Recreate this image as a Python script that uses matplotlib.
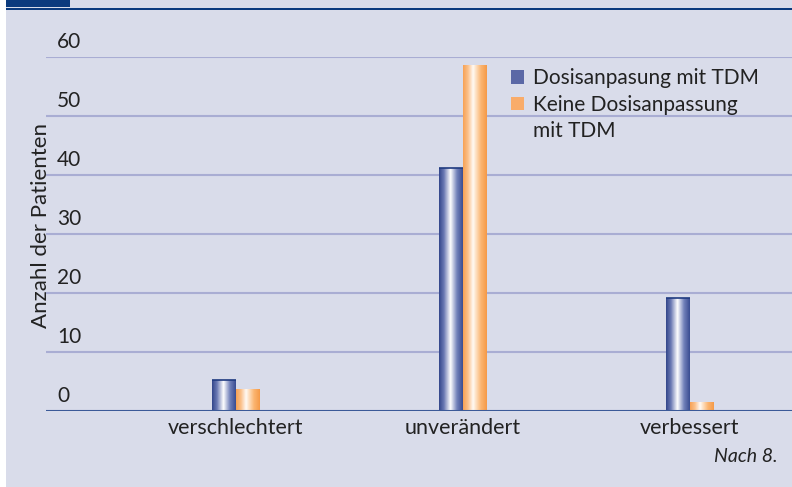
import matplotlib
matplotlib.use("Agg")
import matplotlib.pyplot as plt
import numpy as np
from matplotlib.colors import LinearSegmentedColormap
from matplotlib.patches import Rectangle

# Anzahl der Patienten je Ergebnis
kategorien = ["verschlechtert", "unverändert", "verbessert"]
mit_tdm = [5.2, 41.2, 19.1]
ohne_tdm = [3.7, 58.6, 1.5]
serien = ["Dosisanpasung mit TDM", "Keine Dosisanpassung\nmit TDM"]
yticks = [0, 10, 20, 30, 40, 50, 60]

bg = "#d9dcea"
txt = "#222222"
plt.rcParams["font.family"] = ["Lato", "DejaVu Sans"]

fig = plt.figure(figsize=(7.92, 4.87), dpi=100, facecolor=bg)
# white strip on the left, header bar on top
fig.patches.append(Rectangle((0, 0), 6 / 792, 1, transform=fig.transFigure,
                             facecolor="white", edgecolor="none"))
fig.patches.append(Rectangle((6 / 792, 1 - 7 / 487), 64 / 792, 7 / 487,
                             transform=fig.transFigure, facecolor="#0b3a7e",
                             edgecolor="none"))
fig.patches.append(Rectangle((6 / 792, 1 - 10 / 487), 1, 2.2 / 487,
                             transform=fig.transFigure, facecolor="#0b3a7e",
                             edgecolor="none"))

ax = fig.add_axes([46 / 792, 76 / 487, 746 / 792, 354 / 487])
ax.set_facecolor(bg)
for s in ax.spines.values():
    s.set_visible(False)

blau = LinearSegmentedColormap.from_list(
    "blau", [(0, "#34478c"), (0.2, "#6a79b3"), (0.48, "#ffffff"),
             (0.75, "#7483bb"), (1, "#3a4d92")])
orange = LinearSegmentedColormap.from_list(
    "orange", [(0, "#f7a255"), (0.2, "#fbc08a"), (0.42, "#fffaf4"),
               (0.75, "#fbb672"), (1, "#f59a48")])

x = np.arange(len(kategorien))
w = 0.104
grad = np.linspace(0, 1, 64).reshape(1, -1)

for i in range(len(kategorien)):
    for val, off, cmap, edge in [(mit_tdm[i], -w / 2, blau, "#1f3a80"),
                                 (ohne_tdm[i], w / 2, orange, None)]:
        bar = ax.bar(x[i] + off, val, w, color="none", edgecolor="none", zorder=3)[0]
        im = ax.imshow(grad, cmap=cmap, aspect="auto", zorder=3,
                       extent=[x[i] + off - w / 2, x[i] + off + w / 2, 0, val])
        im.set_clip_path(bar)
        if edge:
            ax.plot([x[i] + off - w / 2, x[i] + off + w / 2], [val, val],
                    color=edge, lw=1.2, zorder=4, solid_capstyle="butt")

# legend proxies; wrapped label continues on its own row without a marker
h1 = Rectangle((0, 0), 1, 1, facecolor="#5b68a6")
h2 = Rectangle((0, 0), 1, 1, facecolor="#f9ac6a")
h3 = Rectangle((0, 0), 1, 1, facecolor="none", edgecolor="none")
zeilen = [serien[0]] + serien[1].split("\n")
leg = ax.legend([h1, h2, h3], zeilen, loc="upper left",
                bbox_to_anchor=(503 / 792, 1 - 60 / 487), bbox_transform=fig.transFigure,
                frameon=False, fontsize=15, handlelength=0.6, handleheight=0.6,
                handletextpad=0.45, labelspacing=0.3, borderaxespad=0)
for t in leg.get_texts():
    t.set_color(txt)

ax.set_xlim(-0.837, 2.45)
ax.set_ylim(0, 60)
ax.set_yticks(yticks)
ax.yaxis.grid(True, color="#a9add3", lw=1.5, zorder=1)
ax.tick_params(axis="y", length=0, labelleft=False)
ax.tick_params(axis="x", length=0, labelsize=15.5, labelcolor=txt, pad=5)
ax.set_xticks(x)
ax.set_xticklabels(kategorien)
ax.axhline(0, color="#3b5a98", lw=2.2, zorder=5)

for t in yticks:
    ax.text(11 / 746, t + 0.9, str(t), transform=ax.get_yaxis_transform(),
            ha="left", va="bottom", fontsize=15, color=txt, clip_on=False)

fig.text(41 / 792, 1 - 225 / 487, "Anzahl der Patienten", rotation=90,
         ha="center", va="center", fontsize=16, color=txt)
fig.text(778 / 792, 1 - 457 / 487, "Nach 8.", ha="right", va="center",
         fontsize=14, style="italic", color=txt)

fig.savefig("out.png", dpi=100, facecolor=bg)
